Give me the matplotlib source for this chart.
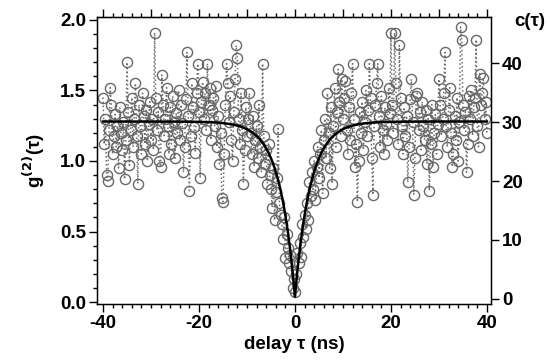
import numpy as np
import matplotlib
matplotlib.use("Agg")
import matplotlib.pyplot as plt
from matplotlib.ticker import MultipleLocator

plt.rcParams['font.family'] = ['Liberation Sans', 'DejaVu Sans']
plt.rcParams['font.weight'] = 'bold'

# delay grid (ns)
tau_start, tau_stop, tau_step = -40.0, 40.0, 0.25

# measured g2 values (one per delay bin)
g2_values = [
    # -40 .. -30
    1.45, 1.12, 1.30, 0.90, 0.86, 1.22, 1.52, 1.40, 1.05, 1.18,
    1.33, 1.10, 1.25, 0.95, 1.38, 1.20, 1.08, 1.28, 0.87, 1.15,
    1.70, 1.35, 0.97, 1.22, 1.45, 1.10, 1.30, 1.55, 1.18, 0.84,
    1.40, 1.25, 1.05, 1.48, 1.32, 1.12, 1.36, 1.00, 1.26, 1.42,
    1.15,
    # -29.75 .. -20
    1.30, 1.08, 1.91, 1.45, 1.22, 1.35, 1.00, 0.96, 1.61, 1.40,
    1.18, 1.30, 1.52, 1.25, 1.05, 1.38, 1.12, 1.46, 1.28, 1.02,
    1.34, 1.20, 1.50, 1.15, 1.40, 1.27, 0.92, 1.10, 1.44, 1.77,
    1.32, 0.79, 1.18, 1.55, 1.38, 1.24, 1.06, 1.48, 1.69, 1.35,
    # -19.75 .. -10
    0.88, 1.42, 1.56, 1.30, 1.48, 1.22, 1.69, 1.40, 1.52, 1.15,
    1.36, 1.45, 1.25, 1.53, 1.10, 1.32, 0.98, 1.20, 0.74, 0.71,
    1.05, 1.40, 1.69, 1.55, 1.28, 1.46, 1.15, 1.00, 1.35, 1.58,
    1.82, 1.73, 1.30, 1.12, 1.48, 1.22, 0.84, 1.08, 1.38, 1.18,
    # -9.75 .. -0.25
    1.30, 1.48, 1.20, 1.05, 1.32, 0.96, 1.15, 1.25, 1.02, 1.40,
    1.10, 0.92, 1.69, 1.18, 0.98, 1.08, 0.84, 1.12, 0.90, 0.80,
    0.67, 0.95, 0.58, 0.78, 0.88, 1.23, 0.70, 0.62, 0.55, 0.45,
    0.60, 0.31, 0.48, 0.38, 0.28, 0.33, 0.22, 0.10, 0.16,
    # 0
    0.07,
    # 0.25 .. 10
    0.20, 0.35, 0.28, 0.42, 0.32, 0.55, 0.46, 0.62, 0.52, 0.70,
    0.58, 0.85, 0.75, 0.92, 0.80, 1.00, 0.72, 0.96, 1.10, 0.88,
    1.05, 1.22, 0.77, 1.15, 1.30, 1.02, 1.48, 1.20, 0.95, 1.38,
    0.84, 1.25, 1.52, 1.10, 1.35, 1.65, 1.42, 1.18, 1.58, 1.30,
    # 10.25 .. 20
    1.45, 1.57, 1.22, 1.05, 1.38, 1.15, 1.48, 1.69, 1.30, 0.96,
    1.12, 0.71, 1.00, 1.35, 1.20, 1.42, 1.08, 1.28, 1.50, 1.18,
    1.36, 1.69, 1.45, 1.02, 0.76, 1.25, 1.40, 1.55, 1.69, 1.32,
    1.10, 1.46, 1.22, 1.05, 1.38, 1.26, 1.15, 1.52, 1.34, 1.91,
    # 20.25 .. 30
    1.40, 1.20, 1.91, 1.55, 1.30, 1.12, 1.82, 1.45, 1.25, 1.05,
    1.38, 1.18, 1.32, 0.85, 1.10, 1.44, 1.58, 1.28, 0.76, 1.02,
    1.46, 1.48, 1.22, 1.35, 1.08, 1.42, 1.25, 1.15, 1.36, 0.98,
    1.30, 0.79, 1.12, 1.40, 0.96, 1.20, 1.33, 1.05, 1.26, 1.58,
    # 30.25 .. 40
    1.40, 1.18, 1.30, 1.48, 1.77, 1.25, 1.10, 1.36, 1.52, 1.20,
    0.96, 1.05, 1.32, 1.15, 1.45, 1.00, 1.28, 1.95, 1.86, 1.40,
    1.22, 1.35, 0.92, 1.12, 1.46, 1.30, 1.50, 1.18, 1.38, 1.45,
    1.86, 1.25, 1.10, 1.62, 1.40, 1.48, 1.59, 1.30, 1.42, 1.20,
]

# fit parameters: g2(t) = A * (1 - b * exp(-|t|/t0))
fit_A, fit_b, fit_t0 = 1.28, 0.97, 3.2

x_ticks = [-40, -20, 0, 20, 40]
y_ticks = [0.0, 0.5, 1.0, 1.5, 2.0]
c_ticks = [0, 10, 20, 30, 40]

tau = np.arange(tau_start, tau_stop + tau_step / 2, tau_step)
g2 = np.array(g2_values)

fig = plt.figure(figsize=(5.5, 3.64), dpi=100)
ax = fig.add_axes([97 / 550, 1 - 304 / 364, (491 - 97) / 550, (304 - 17) / 364])

ax.plot(tau, g2, linestyle=':', color='#6e6e6e', linewidth=1.1,
        marker='o', markersize=7.3, markerfacecolor='none',
        markeredgecolor='#686868', markeredgewidth=1.0)

tfit = np.linspace(tau_start, tau_stop, 801)
gfit = fit_A * (1 - fit_b * np.exp(-np.abs(tfit) / fit_t0))
ax.plot(tfit, gfit, color='black', linewidth=1.8)

ax.set_xlim(-41.25, 40.85)
ax.set_ylim(-0.014, 2.021)
ax.set_xticks(x_ticks)
ax.set_xticklabels([f"{v:d}" for v in x_ticks])
ax.set_yticks(y_ticks)
ax.set_yticklabels([f"{v:.1f}" for v in y_ticks])
ax.xaxis.set_minor_locator(MultipleLocator(2))
ax.yaxis.set_minor_locator(MultipleLocator(0.1))
ax.tick_params(axis='both', which='major', direction='out', length=6, width=1,
               labelsize=13.5, pad=2)
ax.tick_params(axis='both', which='minor', direction='out', length=3, width=1)
for s in ax.spines.values():
    s.set_linewidth(1.0)

ax.set_xlabel('delay τ (ns)', fontsize=13.5, fontweight='bold', labelpad=3)
ax.set_ylabel('g$^{\\mathbf{(2)}}$(τ)', fontsize=13.5, fontweight='bold', labelpad=9)

top = ax.secondary_xaxis('top')
top.xaxis.set_major_locator(MultipleLocator(10))
top.xaxis.set_minor_locator(MultipleLocator(2))
top.tick_params(which='major', direction='out', length=6, width=1, labeltop=False)
top.tick_params(which='minor', direction='out', length=3, width=1)

ax2 = ax.twinx()
ax2.set_ylim(-0.85, 47.8)
ax2.set_yticks(c_ticks)
ax2.set_yticklabels([str(v) for v in c_ticks])
ax2.tick_params(axis='y', which='major', direction='out', length=6, width=1,
                labelsize=13.5, pad=2)
fig.text(530 / 550, 1 - 22 / 364, 'c(τ)', fontsize=13.5, fontweight='bold',
         ha='center', va='center')

fig.savefig('out.png', dpi=100)
